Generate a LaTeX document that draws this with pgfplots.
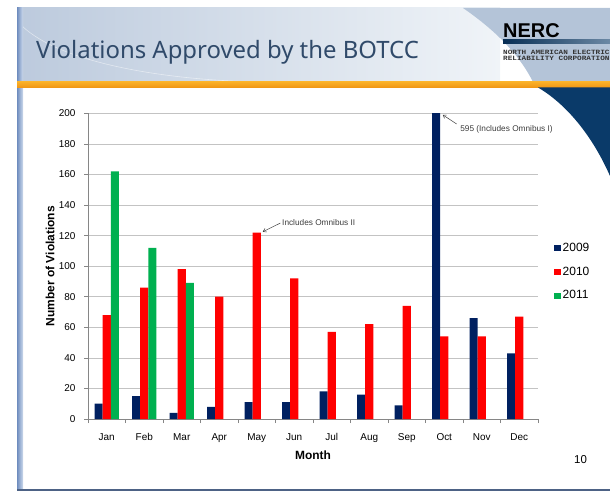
\documentclass[border=0pt]{standalone}
\usepackage{fontspec}
\setmainfont{Liberation Sans}
\newfontfamily\titlefont{Noto Sans}
\newfontfamily\logomono{Liberation Mono}
\usepackage{pgfplots}
\usepackage{pgfplotstable}
\pgfplotsset{compat=1.18}
\usetikzlibrary{arrows.meta}

\definecolor{c09}{RGB}{0,32,96}
\definecolor{c10}{RGB}{255,0,0}
\definecolor{c11}{RGB}{0,176,80}
\definecolor{titleblue}{RGB}{48,74,106}
\definecolor{hdrL}{RGB}{188,202,221}
\definecolor{hdrM}{RGB}{240,244,248}
\definecolor{hdrR}{RGB}{180,196,216}
\definecolor{orA}{RGB}{250,176,40}
\definecolor{orB}{RGB}{240,150,20}
\definecolor{swoosh}{RGB}{10,58,105}
\definecolor{stripA}{RGB}{110,140,190}
\definecolor{stripB}{RGB}{205,218,236}
\definecolor{gridgray}{RGB}{195,195,195}
\definecolor{axisgray}{RGB}{134,134,134}
\definecolor{annot}{RGB}{60,60,60}

% violations per month (0 = Jan), nan = no bar
\pgfplotstableread{
m  v09 v10 v11
0  10  68  162
1  15  86  112
2  4   98  89
3  8   80  nan
4  11  122 nan
5  11  92  nan
6  18  57  nan
7  16  62  nan
8  9   74  nan
9  595 54  nan
10 66  54  nan
11 43  67  nan
}\violations

\pgfplotsset{
  sqlegend/.style={legend image code/.code={\fill[##1] (0bp,-3.5bp) rectangle (6.5bp,3bp);}},
}

\begin{document}
\begin{tikzpicture}
% slide background, in pixel units with y going down
\begin{scope}[x=1bp,y=-1bp]
\path[use as bounding box] (0,0) rectangle (610,492);
\shade[left color=hdrL, right color=hdrM] (17,8) rectangle (500,82);
\fill[hdrR] (463,8) .. controls (492,28) and (518,52) .. (533,82) -- (610,82) -- (610,8) -- cycle;
\draw[white, opacity=0.5, line width=0.6] (22,26) .. controls (60,62) and (160,80) .. (260,82);
\shade[left color=stripA, right color=stripB] (17,8) rectangle (23,490);
\shade[top color=orA, bottom color=orB] (17,82) rectangle (610,87.5);
\fill[swoosh] (538,87.5) .. controls (566,104) and (592,135) .. (610,176) -- (610,87.5) -- cycle;
\fill[black!30!stripA] (17,489) rectangle (610,491);
\node[anchor=base west, inner sep=0, text=titleblue, font=\titlefont\fontsize{24}{24}\selectfont] at (36,58.5) {Violations Approved by the BOTCC};
\node[anchor=base west, inner sep=0, font=\bfseries\fontsize{20}{20}\selectfont] at (503,37.5) {NERC};
\shade[left color=black!20!swoosh, right color=swoosh!60] (503,40) rectangle (610,44);
\node[anchor=base west, inner sep=0, text=black!80, xscale=1.19, font=\logomono\bfseries\fontsize{6.5}{6.5}\selectfont] at (503,54.8) {NORTH AMERICAN ELECTRIC};
\node[anchor=base west, inner sep=0, text=black!80, xscale=1.19, font=\logomono\bfseries\fontsize{6.5}{6.5}\selectfont] at (503,60.6) {RELIABILITY CORPORATION};
\node[anchor=base west, inner sep=0, font=\fontsize{11.5}{11.5}\selectfont] at (574,463) {10};
\end{scope}

\begin{axis}[
  at={(88bp,-419bp)}, anchor=south west,
  scale only axis, width=450bp, height=305.7bp,
  xmin=-0.5, xmax=11.5, ymin=0, ymax=200,
  ybar=0pt, bar width=8.1bp,
  axis x line*=bottom, axis y line*=left,
  axis line style={draw=axisgray, line width=0.6bp},
  xtick={0,...,11},
  xticklabels={Jan,Feb,Mar,Apr,May,Jun,Jul,Aug,Sep,Oct,Nov,Dec},
  minor xtick={-0.5,0.5,...,11.5},
  major x tick style={draw=none},
  major tick length=4bp, minor tick length=4bp,
  tick align=outside,
  every tick/.style={axisgray, line width=0.6bp},
  ytick={0,20,...,200},
  ymajorgrids, grid style={gridgray, line width=0.6bp},
  tick label style={font=\fontsize{10}{10}\selectfont, text=black},
  xticklabel style={yshift=-7bp},
  yticklabel style={xshift=-5bp},
  /pgf/number format/assume math mode=true,
  xlabel={Month}, ylabel={Number of Violations},
  label style={font=\bfseries\fontsize{12}{12}\selectfont},
  xlabel style={at={(axis description cs:0.5,-0.118)}, anchor=center},
  ylabel style={at={(axis description cs:-0.0844,0.5)}, anchor=center},
  legend style={at={(axis description cs:1.0356,0.583)}, anchor=north west,
    draw=none, fill=none, inner sep=0pt, row sep=10bp,
    font=\fontsize{12}{12}\selectfont},
  legend cell align=left,
]
\addplot[fill=c09, draw=none, sqlegend] table[x=m, y=v09] {\violations};
\addplot[fill=c10, draw=none, sqlegend] table[x=m, y=v10] {\violations};
\addplot[fill=c11, draw=none, sqlegend] table[x=m, y=v11] {\violations};
\legend{2009,2010,2011}
\coordinate (mayTip) at (axis cs:4.16,122.5);
\coordinate (mayTail) at (axis cs:4.63,128.2);
\coordinate (mayText) at (axis cs:4.66,128.6);
\coordinate (octTip) at (axis cs:8.96,199);
\coordinate (octTail) at (axis cs:9.33,193);
\coordinate (octText) at (axis cs:9.41,189.8);
\end{axis}

\draw[annot, line width=0.5bp, -{Straight Barb[length=3bp, width=4bp]}] (mayTail) -- (mayTip);
\node[anchor=west, inner sep=0.5bp, text=annot, font=\fontsize{8.3}{8.3}\selectfont] at (mayText) {Includes Omnibus II};
\draw[annot, line width=0.5bp, -{Straight Barb[length=3bp, width=4bp]}] (octTail) -- (octTip);
\node[anchor=west, inner sep=0.5bp, text=annot, font=\fontsize{8.3}{8.3}\selectfont] at (octText) {595 (Includes Omnibus I)};
\end{tikzpicture}
\end{document}
